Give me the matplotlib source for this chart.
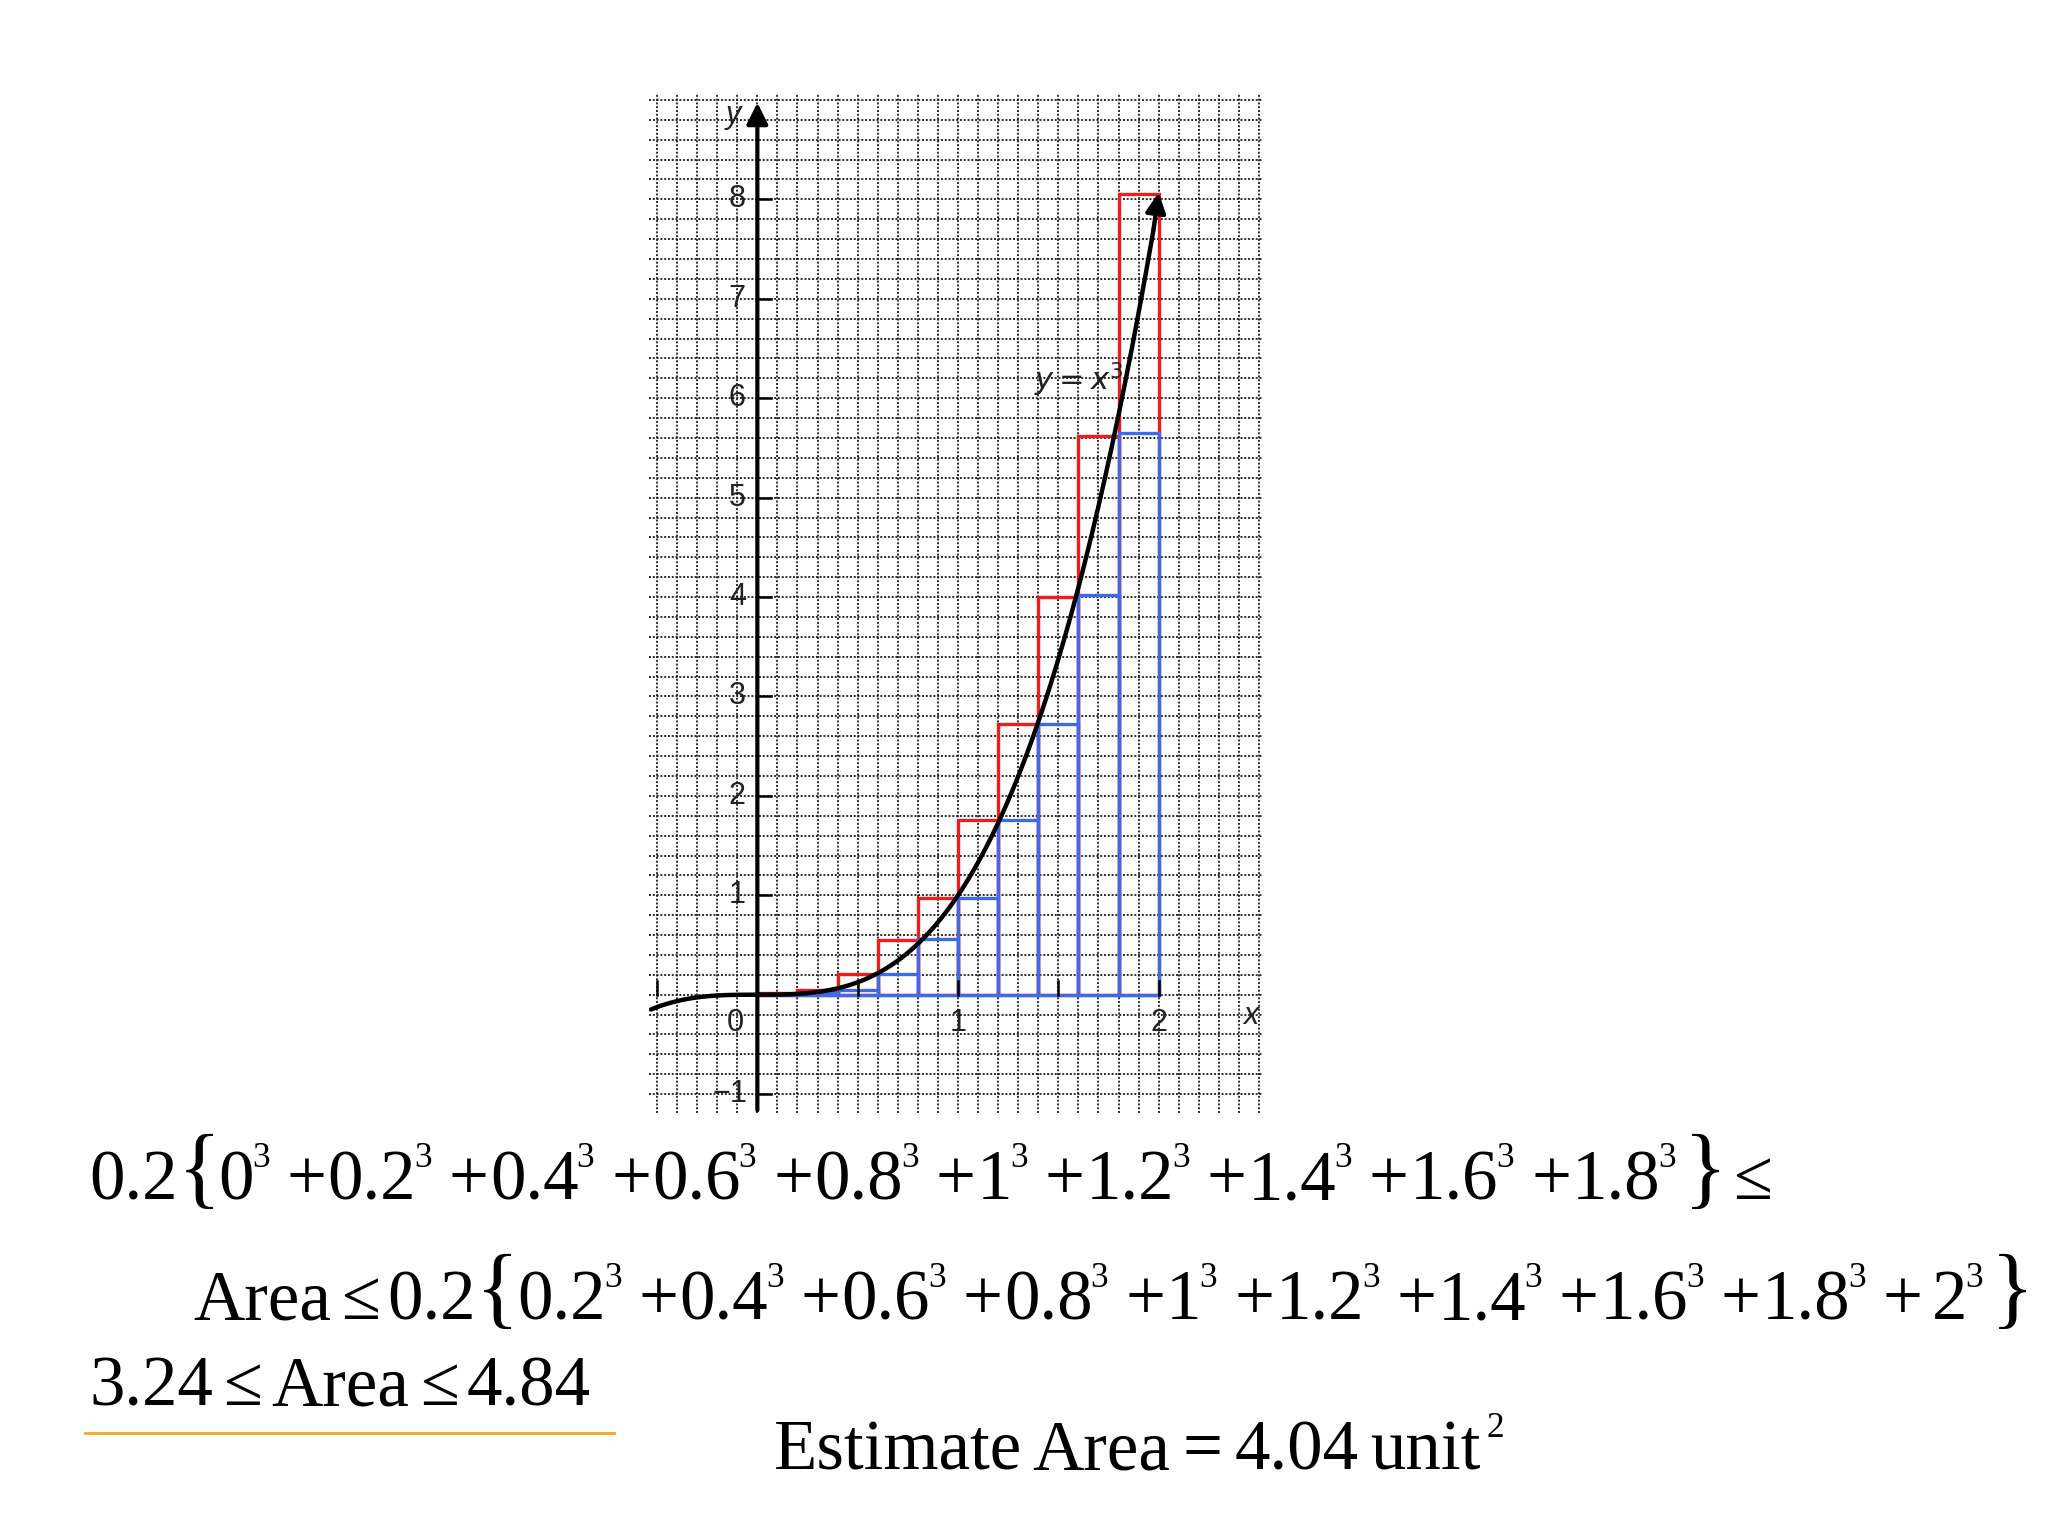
import numpy as np
import matplotlib.pyplot as plt
from matplotlib.lines import Line2D

# strip edges and heights of the Riemann sums for y = x^3 on [0, 2]
x_left = [0.0, 0.2, 0.4, 0.6, 0.8, 1.0, 1.2, 1.4, 1.6, 1.8]
upper_h = [0.02, 0.05, 0.21, 0.55, 0.97, 1.76, 2.72, 4.0, 5.62, 8.05]
lower_h = [0.0, 0.02, 0.05, 0.21, 0.56, 0.97, 1.76, 2.72, 4.02, 5.65]
bar_w = 0.2

y_ticks = [8, 7, 6, 5, 4, 3, 2, 1, -1]
x_ticks = [-0.5, 0.5, 1, 1.5, 2]
x_tick_labels = {1: "1", 2: "2"}

# terms of the two sums
lower_terms = ["0", "0.2", "0.4", "0.6", "0.8", "1", "1.2", "1.4", "1.6", "1.8"]
upper_terms = ["0.2", "0.4", "0.6", "0.8", "1", "1.2", "1.4", "1.6", "1.8", "2"]

W, H = 2048, 1536
fig = plt.figure(figsize=(W / 100, H / 100), dpi=100)
renderer = fig.canvas.get_renderer()

# graph paper area in pixels
px_l, px_r, px_t, px_b = 649, 1263, 94, 1113
ax = fig.add_axes([px_l / W, 1 - px_b / H, (px_r - px_l) / W, (px_b - px_t) / H])
ax.set_xlim(-0.54, 2.52)
ax.set_ylim(-1.19, 9.06)
ax.axis('off')

# grid lines
grid_kw = dict(color='#1e1e1e', lw=1.3, linestyle=(0, (1.1, 1.0)), zorder=1)
for gx in np.arange(-0.5, 2.51, 0.1):
    ax.axvline(gx, **grid_kw)
for gy in np.arange(-1.2, 9.01, 0.2):
    ax.axhline(gy, **grid_kw)

# rectangles
ax.bar(x_left, upper_h, width=bar_w, align='edge', fill=False,
       edgecolor='#ee1c1c', lw=2.4, zorder=3)
ax.bar(x_left, lower_h, width=bar_w, align='edge', fill=False,
       edgecolor='#3d6ae6', lw=2.4, zorder=4)

# axes with arrows
arr = dict(arrowstyle='-|>', lw=3, color='black', mutation_scale=32)
ax.annotate('', xy=(0, 9.0), xytext=(0, -1.19), arrowprops=arr, zorder=5)
ax.annotate('', xy=(2.53, 0), xytext=(-0.54, 0), arrowprops=arr, zorder=5)

# curve y = x^3
xc = np.linspace(-0.53, 1.975, 300)
ax.plot(xc, xc ** 3, color='black', lw=3.2, zorder=6, solid_capstyle='round')
ax.annotate('', xy=(2.0, 8.07), xytext=(1.975, 1.975 ** 3),
            arrowprops=dict(arrowstyle='-|>', lw=3.2, color='black',
                            mutation_scale=30, shrinkA=0, shrinkB=0), zorder=6)

# ticks
lab_kw = dict(fontsize=22, family='Liberation Sans', color='#222222', zorder=7)
for t in y_ticks:
    ax.plot([0, 0.07], [t, t], color='black', lw=1.8, zorder=5)
    if t > 0:
        ax.text(-0.1, t, str(t), ha='center', va='center', **lab_kw)
    else:
        ax.text(-0.05, t, "\u2212" + str(-t), ha='right', va='center', **lab_kw)
for t in x_ticks:
    ax.plot([t, t], [0, 0.14], color='black', lw=1.8, zorder=5)
for t, lab in x_tick_labels.items():
    ax.text(t, -0.28, lab, ha='center', va='center', **lab_kw)
ax.text(-0.11, -0.28, "0", ha='center', va='center', **lab_kw)
ax.text(-0.12, 8.85, "y", ha='center', va='center', style='italic', **lab_kw)
ax.text(2.46, -0.21, "x", ha='center', va='center', style='italic', **lab_kw)
ax.text(1.38, 6.19, r"$\mathit{y} = \mathit{x}^3$", ha='left', va='center',
        fontsize=22, math_fontfamily='dejavusans', color='#222222', zorder=7)

# working below the graph, laid out piece by piece
F = 51
PT = 100 / 72


def draw_seq(x, base, parts):
    for txt, kind in parts:
        if kind == 'gap':
            x += txt
            continue
        if kind == 's':
            size, dy = 0.5 * F, 0.45 * F * PT
            x -= 2
        elif kind == 'b':
            size, dy = 1.27 * F, 0.03 * F * PT
        else:
            size, dy = F, 0
        t = fig.text(x / W, 1 - (base - dy) / H, txt, fontsize=size,
                     family='Liberation Serif', ha='left', va='baseline')
        x = t.get_window_extent(renderer).x1
    return x


def sum_parts(terms, last_gap=0):
    parts = []
    for i, term in enumerate(terms):
        if i > 0:
            parts += [(17, 'gap'), ("+", 'n'), (1, 'gap')]
            if i == len(terms) - 1:
                parts.append((last_gap, 'gap'))
        parts += [(term, 'n'), ("3", 's')]
    return parts


line1 = ([("0.2", 'n'), (0, 'gap'), ("{", 'b'), (-2, 'gap')] + sum_parts(lower_terms)
         + [(8, 'gap'), ("}", 'b'), (6, 'gap'), ("\u2264", 'n')])
line2 = ([("Area", 'n'), (10, 'gap'), ("\u2264", 'n'), (8, 'gap'),
          ("0.2", 'n'), (0, 'gap'), ("{", 'b'), (-2, 'gap')]
         + sum_parts(upper_terms, last_gap=8) + [(8, 'gap'), ("}", 'b')])
line3 = [("3.24", 'n'), (10, 'gap'), ("\u2264", 'n'), (10, 'gap'), ("Area", 'n'),
         (10, 'gap'), ("\u2264", 'n'), (8, 'gap'), ("4.84", 'n')]
line4 = [("Estimate", 'n'), (10, 'gap'), ("Area", 'n'), (12, 'gap'), ("=", 'n'),
         (12, 'gap'), ("4.04", 'n'), (12, 'gap'), ("unit", 'n'), (8, 'gap'),
         ("2", 's')]

draw_seq(89, 1199, line1)
draw_seq(193, 1319, line2)
draw_seq(89, 1405, line3)
draw_seq(774, 1469, line4)

fig.add_artist(Line2D([85 / W, 614 / W], [1 - 1433 / H, 1 - 1433 / H],
                      color='#f5a623', lw=2))

fig.savefig("out.png", dpi=100, facecolor='white')
